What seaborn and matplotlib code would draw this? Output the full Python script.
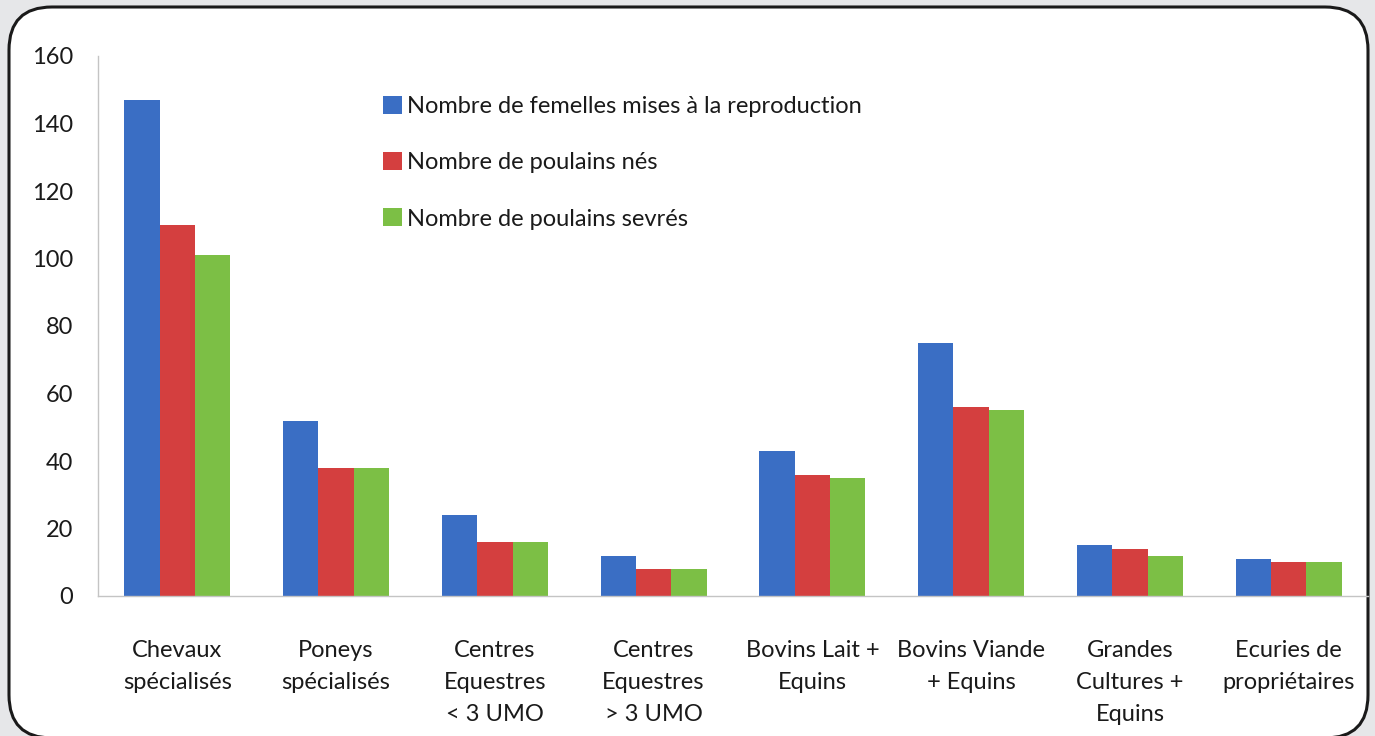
import numpy as np
import pandas as pd
import matplotlib
matplotlib.use("Agg")
import matplotlib.pyplot as plt
import seaborn as sns
from matplotlib.patches import FancyBboxPatch

# data
categories = ["Chevaux\nspécialisés", "Poneys\nspécialisés", "Centres\nEquestres\n< 3 UMO",
              "Centres\nEquestres\n> 3 UMO", "Bovins Lait +\nEquins", "Bovins Viande\n+ Equins",
              "Grandes\nCultures +\nEquins", "Ecuries de\npropriétaires"]
femelles = [147, 52, 24, 12, 43, 75, 15, 11]
poulains_nes = [110, 38, 16, 8, 36, 56, 14, 10]
poulains_sevres = [101, 38, 16, 8, 35, 55, 12, 10]
series = ["Nombre de femelles mises à la reproduction",
          "Nombre de poulains nés",
          "Nombre de poulains sevrés"]
colors = ["#3a6ec4", "#d43f3f", "#7cbf45"]

df = pd.DataFrame({
    "Type": categories * 3,
    "Serie": np.repeat(series, len(categories)),
    "Valeur": femelles + poulains_nes + poulains_sevres,
})

sns.set_style("white")
plt.rcParams["font.family"] = ["Lato", "DejaVu Sans"]

fig = plt.figure(figsize=(13.75, 7.36), dpi=100, facecolor="#e6e7e9")

# rounded white frame behind the chart
frame = FancyBboxPatch((0.09, -0.02), 13.59, 7.31,
                       boxstyle="round,pad=0,rounding_size=0.43",
                       transform=fig.dpi_scale_trans,
                       facecolor="white", edgecolor="#1a1a1a", linewidth=2.2, zorder=-1)
fig.add_artist(frame)

ax = fig.add_axes([98 / 1375, 1 - 596 / 736, (1368 - 98) / 1375, (596 - 56) / 736])
ax.patch.set_alpha(0)

sns.barplot(data=df, x="Type", y="Valeur", hue="Serie", palette=colors,
            width=0.667, saturation=1, errorbar=None, linewidth=0, ax=ax)

ax.set_xlim(-0.5, 7.5)
ax.set_ylim(0, 160)
ax.set_yticks(range(0, 161, 20))
ax.set_xlabel("")
ax.set_ylabel("")

for s in ["top", "right"]:
    ax.spines[s].set_visible(False)
for s in ["left", "bottom"]:
    ax.spines[s].set_color("#c4c4c4")
    ax.spines[s].set_linewidth(1)

ax.tick_params(axis="y", length=7, width=1, color="#c4c4c4", pad=11,
               labelsize=17, labelcolor="#1a1a1a")
ax.tick_params(axis="x", which="major", length=0, pad=32,
               labelsize=17, labelcolor="#1a1a1a")
ax.set_xticks(np.arange(-0.5, 8, 1), minor=True)
ax.tick_params(axis="x", which="minor", length=8, width=1, color="#c4c4c4")
for lab in ax.get_xticklabels():
    lab.set_linespacing(1.62)

handles, labels = ax.get_legend_handles_labels()
ax.legend(handles, labels, loc="upper left", bbox_to_anchor=(383 / 1375, 1 - 96 / 736),
          bbox_transform=fig.transFigure, frameon=False, fontsize=17,
          handlelength=0.8, handleheight=0.8, handletextpad=0.2,
          labelspacing=1.48, borderpad=0, borderaxespad=0, labelcolor="#1a1a1a")

fig.savefig("out.png", dpi=100, facecolor=fig.get_facecolor())
